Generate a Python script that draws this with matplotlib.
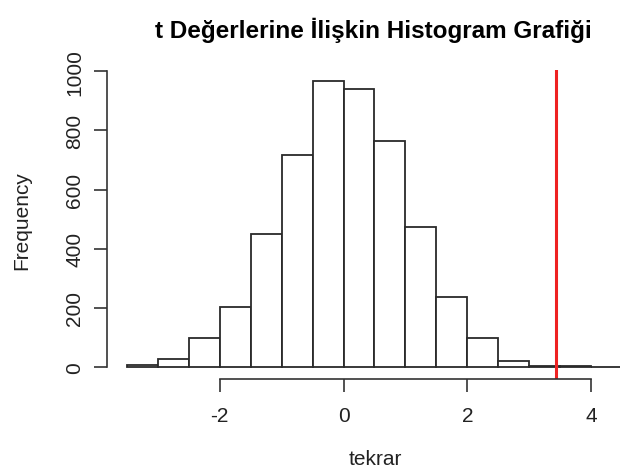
import matplotlib
matplotlib.use("Agg")
import matplotlib.pyplot as plt
import numpy as np

plt.rcParams['font.family'] = ['Liberation Sans', 'DejaVu Sans']
plt.rcParams['axes.unicode_minus'] = False

# histogram bins (width 0.5) and counts
bin_edges = [-3.5, -3.0, -2.5, -2.0, -1.5, -1.0, -0.5, 0.0, 0.5,
             1.0, 1.5, 2.0, 2.5, 3.0, 3.5, 4.0, 4.5]
counts = [6, 28, 97, 203, 450, 716, 966, 940, 764, 473, 236, 97, 20, 5, 2, 1]
t_obs = 3.43
x_ticks = [-2, 0, 2, 4]
y_ticks = [0, 200, 400, 600, 800, 1000]

fig = plt.figure(figsize=(6.2, 4.77), dpi=100)
# plot region runs past the right edge (picture is cropped there)
ax = fig.add_axes([107 / 620, 1 - 379.5 / 477, 535 / 620, 308.5 / 477])

lefts = np.array(bin_edges[:-1])
widths = np.diff(bin_edges)
ax.bar(lefts, counts, width=widths, align='edge', color='white',
       edgecolor='#2a2a2a', linewidth=1.3)
ax.axvline(t_obs, color='#ee2222', linewidth=2.2)

ax.set_xlim(-3.82, 4.82)
ax.set_ylim(-38.6, 1004)

for s in ['top', 'right']:
    ax.spines[s].set_visible(False)
ax.spines['bottom'].set_bounds(-2, 4)
ax.spines['left'].set_bounds(0, 1000)
for s in ['bottom', 'left']:
    ax.spines[s].set_color('#333333')
    ax.spines[s].set_linewidth(1.2)

ax.set_xticks(x_ticks)
ax.set_yticks(y_ticks)
ax.set_yticklabels([str(v) for v in y_ticks], rotation=90, va='center')
ax.tick_params(axis='both', length=9.5, width=1.2, color='#333333',
               labelsize=15, labelcolor='#222222')
ax.tick_params(axis='x', pad=10)
ax.tick_params(axis='y', pad=7)

fig.text(375 / 620, 1 - 460 / 477, 'tekrar', ha='center', va='center',
         fontsize=15, color='#222222')
fig.text(22 / 620, 1 - 221 / 477, 'Frequency', ha='center', va='center',
         rotation=90, fontsize=15, color='#222222')
fig.text(373 / 620, 1 - 30 / 477, 't Değerlerine İlişkin Histogram Grafiği',
         ha='center', va='center', fontsize=17.5, fontweight='bold')

fig.savefig('out.png', dpi=100)
